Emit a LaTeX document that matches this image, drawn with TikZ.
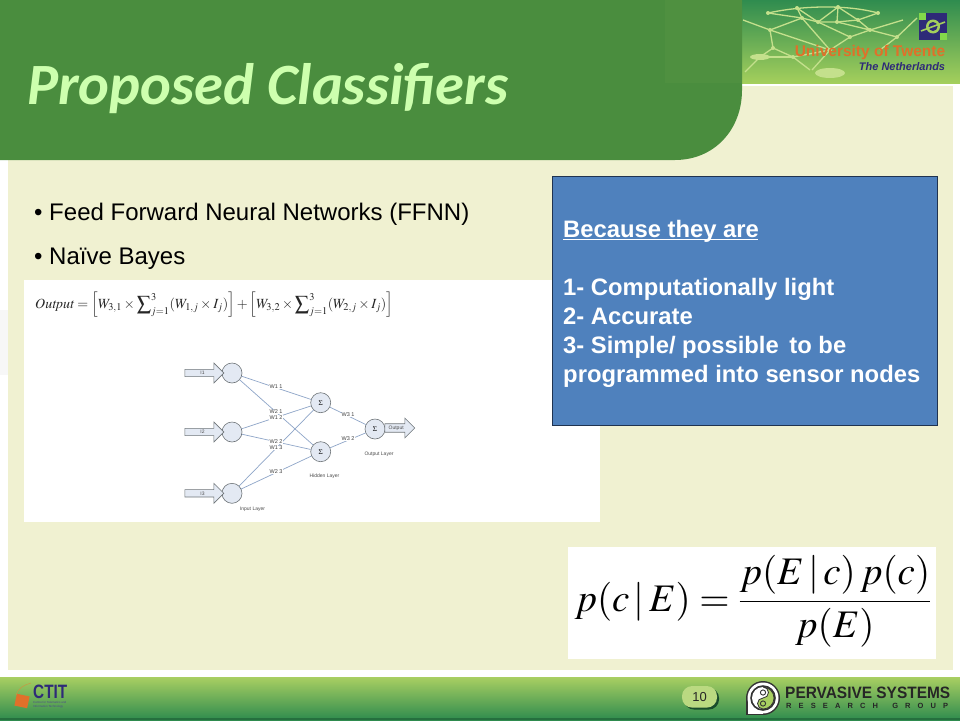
\documentclass[tikz,border=0pt]{standalone}
\usepackage{amsmath}
\usepackage{mathptmx}
\usepackage{fontspec}
\setmainfont{Liberation Sans}
\newfontfamily\carlito{Carlito}
\usetikzlibrary{shapes.arrows,arrows.meta,calc}
\definecolor{bandgreen}{HTML}{4A8D3E}
\definecolor{creamy}{HTML}{F0F1D1}
\definecolor{titlegreen}{HTML}{CDFFAE}
\definecolor{bluebox}{HTML}{4F81BD}
\definecolor{boxedge}{HTML}{1F3350}
\definecolor{netline}{HTML}{8EA5C8}
\definecolor{cellfill}{HTML}{E3E9F3}
\definecolor{celledge}{HTML}{6E7478}
\definecolor{navy}{HTML}{2E2A78}
\definecolor{orangey}{HTML}{E0702A}
\definecolor{footlight}{HTML}{A9CF62}
\definecolor{footdark}{HTML}{2E8B4E}
\definecolor{logodark}{HTML}{2F8C4F}
\definecolor{logolight}{HTML}{A4CF5C}
\definecolor{meshgreen}{HTML}{C4E08C}
\tikzset{
  cell/.style={circle,draw=celledge,fill=cellfill,line width=.6pt,inner sep=0pt,minimum size=20pt,font=\fontsize{7}{7}\selectfont},
  inarrow/.style={single arrow,draw=celledge,fill=cellfill,line width=.6pt,minimum height=39pt,minimum width=20pt,single arrow head extend=3.5pt,inner sep=0pt,font=\fontsize{5}{5}\selectfont,text=black!70},
  link/.style={draw=netline,line width=.7pt},
  wlabel/.style={fill=white,inner sep=.3pt,font=\fontsize{5.5}{5.5}\selectfont,text=black!75},
  layername/.style={font=\fontsize{5}{5}\selectfont,text=black!70},
  bullet/.style={anchor=west,font=\fontsize{24}{28}\selectfont,text=black,inner sep=0pt},
  mesh/.style={draw=meshgreen,line width=1.3pt,line join=round},
  blob/.style={fill=meshgreen},
}
\begin{document}
\begin{tikzpicture}[x=1pt,y=-1pt]
\useasboundingbox (0,0) rectangle (960,720);
\fill[white] (0,0) rectangle (960,720);
\fill[black!3] (0,310) rectangle (8,375);
% cream panel
\fill[creamy] (8,86) rectangle (953,670);
% logo band
\shade[top color=logodark,bottom color=logolight] (742,0) rectangle (960,83);
\draw[mesh] (768,13) .. controls (800,6) and (845,4) .. (878,13);
\draw[mesh] (743,20) -- (770,30) -- (802,18) -- (818,22) -- (837,22) -- (858,20) -- (878,13);
\draw[mesh] (768,13) -- (802,18) -- (797,8);
\draw[mesh] (797,8) -- (818,22) -- (838,7) -- (837,22) -- (870,30) -- (858,20) -- (838,7);
\draw[mesh] (770,30) -- (773,48) -- (760,57) -- (745,72);
\draw[mesh] (773,48) -- (793,57) -- (810,70);
\draw[mesh] (802,18) -- (830,50) -- (850,37) -- (870,30) -- (897,37) -- (917,18);
\draw[mesh] (818,22) -- (850,37);
\draw[mesh] (830,50) -- (793,57);
\draw[mesh] (770,30) -- (830,50);
\draw[mesh] (760,57) -- (793,57);
\draw[mesh] (870,30) -- (903,20);
\draw[mesh] (897,37) -- (880,50);
\draw[mesh] (830,50) -- (812,70);
\foreach \a/\b in {768/13,797/8,838/7,878/13,770/30,802/18,818/22,837/22,858/20,773/48,793/57,830/50,850/37,870/30,897/37}{\fill[blob] (\a,\b) circle (2pt);}
\fill[blob] (760,57) ellipse (10pt and 3pt);
\fill[blob] (830,73) ellipse (15pt and 5pt);
\node[inner sep=0pt,text=orangey,font=\fontsize{15.5}{15.5}\selectfont\bfseries] (uni) at (870,52) {University of Twente};
\node[inner sep=0pt,text=navy,font=\fontsize{11}{11}\selectfont\bfseries\itshape] (nl) at (902,67) {The Netherlands};
\fill[navy] (919,13) rectangle (947,40);
\fill[logolight!80!green] (919,13) rectangle (926,20);
\fill[logolight!80!green] (947,40) rectangle (940,33);
\fill[logolight] (933,26.5) circle (7);
\fill[navy] (933,26.5) circle (4.5);
\draw[logolight,line width=1.6pt] (921,31) -- (945,22);
% header tab
\fill[bandgreen] (0,0) -- (742,0) -- (742,90) .. controls (742,130) and (714,160) .. (675,160) -- (0,160) -- cycle;
\fill[bandgreen!95!footlight] (665,0) rectangle (742,83);
\node[anchor=west,inner sep=0pt,text=titlegreen,font=\fontsize{58.5}{60}\selectfont\carlito\bfseries\itshape] (title) at (27,89) {Proposed Classifiers};
% bullets
\node[bullet] (b1) at (34,214.5) {\textbullet{} Feed Forward Neural Networks (FFNN)};
\node[bullet] (b2) at (34,258.5) {\textbullet{} Naïve Bayes};
% picture panel
\fill[white] (24,280) rectangle (600,522);
\node[anchor=west,inner sep=0pt,text=black!85] (eq1) at (35,305) {\fontsize{14}{16}\selectfont$\displaystyle\mathit{Output}=\Bigl[W_{3,1}\times\sum\nolimits_{j=1}^{3}(W_{1,j}\times I_{j})\Bigr]+\Bigl[W_{3,2}\times\sum\nolimits_{j=1}^{3}(W_{2,j}\times I_{j})\Bigr]$};
% network
\node[cell] (n1) at (232,373) {};
\node[cell] (n2) at (232,432) {};
\node[cell] (n3) at (232,493.3) {};
\node[cell] (h1) at (320.7,402.7) {$\Sigma$};
\node[cell] (h2) at (320.7,451.7) {$\Sigma$};
\node[cell] (o1) at (375,429) {$\Sigma$};
\node[inarrow] (i1) at (202.5,373) {I1};
\node[inarrow] (i2) at (202.5,432) {I2};
\node[inarrow] (i3) at (202.5,493.3) {I3};
\node[inarrow,minimum height=30pt,anchor=west] (out) at (384.5,428) {\hspace{-3pt}Output};
\foreach \s/\e in {n1/h1,n1/h2,n2/h1,n2/h2,n3/h1,n3/h2,h1/o1,h2/o1}{\draw[link] (\s) -- (\e);}
\node[wlabel] (w12) at (276,417.5) {W1 2};
\node[wlabel] (w11) at (276,387) {W1 1};
\node[wlabel] (w21) at (276,412) {W2 1};
\node[wlabel] (w13) at (276,448) {W1 3};
\node[wlabel] (w22) at (276,441.5) {W2 2};
\node[wlabel] (w23) at (276,471.5) {W2 3};
\node[wlabel] (w31) at (348,415) {W3 1};
\node[wlabel] (w32) at (348,439) {W3 2};
\node[layername] (l1) at (252.5,509) {Input Layer};
\node[layername] (l2) at (324.5,476.5) {Hidden Layer};
\node[layername] (l3) at (379,454.5) {Output Layer};
% blue box
\node[draw=boxedge,fill=bluebox,line width=.8pt,minimum width=384.5pt,minimum height=248.5pt,anchor=north west,inner sep=0pt] (why) at (552,176) {};
\node[anchor=north west,inner sep=0pt,text=white,align=left,font=\fontsize{23.8}{29}\selectfont\bfseries] (whytext) at (563,220) {\rlap{\rule[-3pt]{195pt}{1.6pt}}Because they are\\[29pt]
1- Computationally light\\
2- Accurate\\
3- Simple/ possible\, to be\\
programmed into sensor nodes};
% bayes
\fill[white] (568,547) rectangle (936,659);
\node[inner sep=0pt,text=black] (bayes) at (753,601.5) {\fontsize{39}{44}\selectfont$\displaystyle p(c\,|\,E)=\frac{p(E\,|\,c)\,p(c)}{p(E)}$};
% footer
\shade[top color=footlight,bottom color=footdark] (0,677) rectangle (960,720);
\fill[footdark!80!black] (0,717.5) rectangle (960,720);
% CTIT
\fill[orangey,rotate around={-12:(22,701)}] (15.5,695) rectangle (28.5,707);
\draw[orangey!60!footlight,line width=.5pt] (16,695) .. controls (18,688) and (24,685) .. (31,683);
\node[anchor=west,inner sep=0pt,text=navy,font=\bfseries] (ctit) at (33,691.5) {\resizebox{34pt}{13.5pt}{CTIT}};
\node[anchor=north west,inner sep=0pt,text=navy!85,align=left,font=\fontsize{2.9}{3.4}\selectfont] (ctit2) at (33,701.5) {Centre for Telematics and\\Information Technology};
% page number
\fill[black!45!footdark,rounded corners=10pt] (684,688) rectangle (719,709.5);
\node[fill=footlight!80!white,rounded corners=10pt,minimum width=35pt,minimum height=21.5pt,inner sep=0pt,font=\fontsize{13}{13}\selectfont,text=black!85] (page) at (699.5,696.8) {10};
% pervasive logo
\fill[black!80] (763,698) circle (17);
\fill[black!80] (746,698) rectangle (763,715);
\fill[white] (763,698) circle (15.5);
\fill[white] (747.5,698) rectangle (763,713.5);
\fill[black!80] (763,698) circle (12.8);
\fill[white] (763,698) circle (11);
\fill[footlight] (763,687) arc (-90:90:11) arc (90:270:5.5) arc (90:-90:5.5) -- cycle;
\draw[black!80,line width=.8pt] (763,687) arc (-90:90:11) arc (90:270:5.5) arc (90:-90:5.5);
\draw[black!80,line width=.9pt,fill=white] (763,692.5) circle (2.6);
\draw[black!80,line width=.9pt,fill=footlight] (763,703.5) circle (2.6);
\node[anchor=west,inner sep=0pt,text=black!85,font=\bfseries] (pv) at (785,692.5) {\resizebox{165pt}{11.5pt}{PERVASIVE SYSTEMS}};
\node[anchor=west,inner sep=0pt,text=black!85,font=\fontsize{7.5}{8}\selectfont\bfseries] (rg) at (786,706) {\makebox[162pt][s]{R\hfil E\hfil S\hfil E\hfil A\hfil R\hfil C\hfil H\hfil\hfil G\hfil R\hfil O\hfil U\hfil P}};
\end{tikzpicture}
\end{document}
